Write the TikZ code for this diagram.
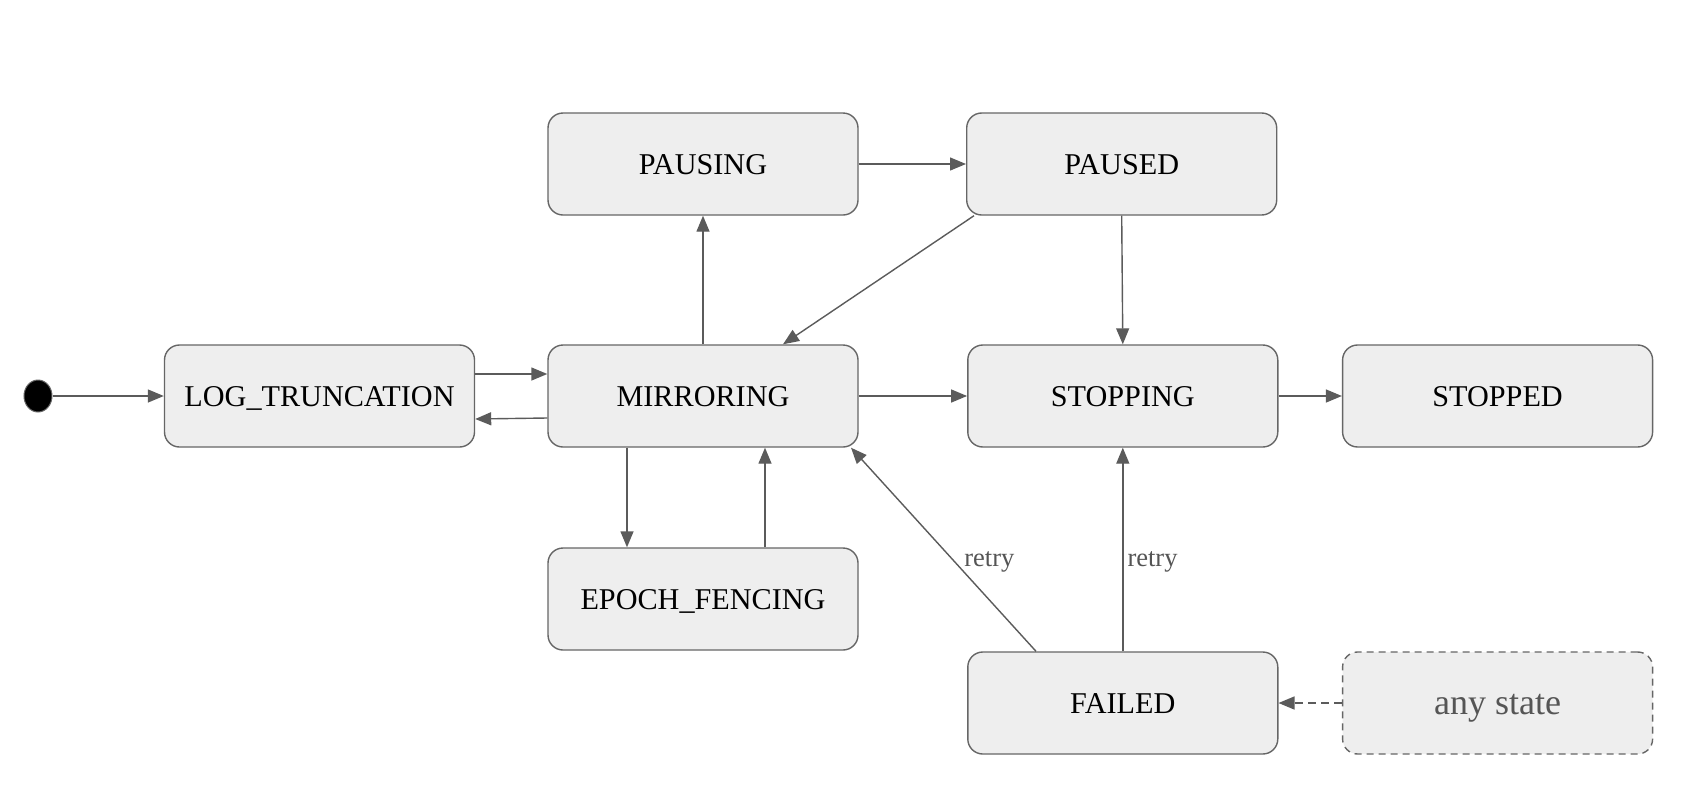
\documentclass[tikz,border=0pt]{standalone}
\usepackage{fontspec}
\setmainfont{Liberation Serif}
\usetikzlibrary{arrows.meta,shapes.geometric,calc}
\definecolor{boxfill}{HTML}{EEEEEE}
\definecolor{boxline}{HTML}{666666}
\definecolor{arrline}{HTML}{5B5B5B}
\definecolor{lblgray}{HTML}{555555}
\begin{document}
\begin{tikzpicture}[x=1pt,y=-1pt,
  state/.style={rectangle, rounded corners=15pt, minimum width=310pt, minimum height=102pt,
    fill=boxfill, draw=boxline, line width=1.4pt, inner sep=0pt,
    text height=20pt, text depth=0pt,
    font=\fontsize{30.2}{35}\selectfont},
  anystate/.style={state, dashed, dash pattern=on 7pt off 5pt, text=lblgray,
    text height=22pt, font=\fontsize{36}{40}\selectfont},
  arr/.style={draw=arrline, line width=1.4pt, -{Triangle[length=16pt,width=13pt]}, color=arrline},
  lbl/.style={text=lblgray, font=\fontsize{26.5}{30}\selectfont, inner sep=3pt, anchor=west}
]
\useasboundingbox (0,0) rectangle (1701,801);

\node[ellipse, minimum width=28pt, minimum height=32pt, inner sep=0pt, fill=black, draw=boxline, line width=1pt] (init) at (38,396) {};
\node[state] (log) at (319.5,396) {LOG\_TRUNCATION};
\node[state] (pausing) at (703,164) {PAUSING};
\node[state] (paused) at (1121.7,164) {PAUSED};
\node[state] (mir) at (703,396) {MIRRORING};
\node[state] (stop) at (1122.8,396) {STOPPING};
\node[state] (stopped) at (1497.6,396) {STOPPED};
\node[state] (epoch) at (703,599) {EPOCH\_FENCING};
\node[state] (failed) at (1122.8,703) {FAILED};
\node[anystate] (any) at (1497.6,703) {any state};

\draw[arr] (init) -- (log);
\draw[arr] (log.east |- 0,374) -- (mir.west |- 0,374);
\draw[arr] (mir.west |- 0,418) -- (log.east |- 0,419);
\draw[arr] (mir.north) -- (pausing.south);
\draw[arr] (pausing.east) -- (paused.west);
\draw[arr] (paused.south -| 974,0) -- (mir.north -| 783,0);
\draw[arr] (paused.south) -- (stop.north);
\draw[arr] (mir.east) -- (stop.west);
\draw[arr] (stop.east) -- (stopped.west);
\draw[arr] (mir.south -| 627,0) -- (epoch.north -| 627,0);
\draw[arr] (epoch.north -| 765,0) -- (mir.south -| 765,0);
\draw[arr] (failed.north -| 1036,0) -- node[lbl, pos=0.44, xshift=6pt] (r1) {retry} (mir.south -| 851,0);
\draw[arr] (failed.north) -- node[lbl, pos=0.44, xshift=1pt] (r2) {retry} (stop.south);
\draw[arr, dashed, dash pattern=on 8pt off 5pt] (any.west) -- (failed.east);
\end{tikzpicture}
\end{document}
